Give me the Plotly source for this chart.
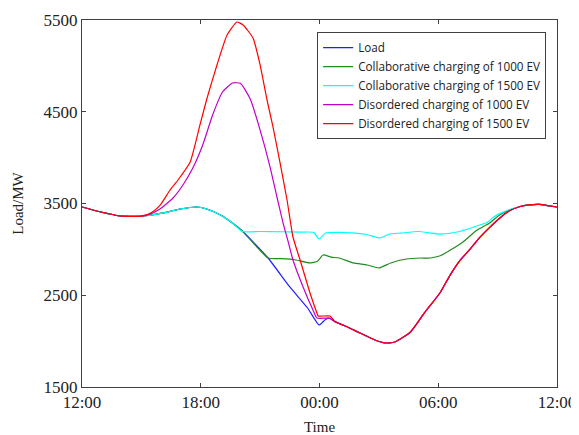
import plotly.graph_objects as go

# hours after 12:00 (0..24)
tick_hours = [0, 6, 12, 18, 24]
tick_labels = ["12:00", "18:00", "00:00", "06:00", "12:00"]
y_ticks = [1500, 2500, 3500, 4500, 5500]

load_x = [0, 0.9, 1.9, 3.0, 4.1, 4.95, 5.8, 6.3, 7.0, 7.6, 8.1, 9.4, 10.5, 11.4,
          11.98, 12.3, 12.5, 12.8, 13.3, 14.05, 14.8, 15.3, 15.8, 16.6, 17.3,
          18.1, 18.6, 19.1, 19.6, 20.1, 20.6, 21.1, 21.6, 22.1, 22.6, 23.1, 23.6, 24]
load_y = [3462, 3410, 3365, 3362, 3397, 3440, 3462, 3440, 3375, 3288, 3200, 2906, 2590, 2361,
          2176, 2235, 2250, 2210, 2165, 2088, 2012, 1980, 1990, 2100, 2307,
          2530, 2720, 2880, 3000, 3130, 3240, 3340, 3420, 3465, 3485, 3490, 3475, 3462]

collab1000_x = [0, 0.9, 1.9, 3.0, 4.1, 4.95, 5.8, 6.3, 7.0, 7.6, 8.1, 9.4, 10.0, 10.7,
                11.5, 11.9, 12.18, 12.6, 13.0, 13.7, 14.4, 15.0, 15.6, 16.4, 17.1, 17.6,
                18.1, 18.6, 19.25, 19.96, 20.6, 21.1, 21.6, 22.1, 22.6, 23.1, 23.6, 24]
collab1000_y = [3462, 3410, 3365, 3362, 3397, 3440, 3462, 3440, 3375, 3288, 3200, 2906, 2900, 2890,
                2852, 2870, 2939, 2915, 2906, 2852, 2830, 2797, 2852, 2895, 2906, 2906,
                2930, 2990, 3080, 3211, 3288, 3375, 3429, 3465, 3485, 3490, 3475, 3462]

collab1500_x = [0, 0.9, 1.9, 3.0, 4.1, 4.95, 5.8, 6.3, 7.0, 7.6, 8.1, 9.0, 10.0, 11.0,
                11.7, 11.98, 12.3, 13.0, 13.6, 14.3, 15.06, 15.5, 16.1, 17.0, 17.6,
                18.1, 18.95, 19.8, 20.5, 20.8, 21.1, 21.6, 22.1, 22.6, 23.1, 23.6, 24]
collab1500_y = [3462, 3410, 3365, 3362, 3397, 3440, 3462, 3440, 3375, 3288, 3195, 3195, 3192, 3188,
                3185, 3113, 3178, 3185, 3180, 3165, 3124, 3165, 3178, 3195, 3178,
                3167, 3189, 3244, 3298, 3353, 3390, 3435, 3465, 3485, 3490, 3475, 3462]

disord1000_x = [0, 0.9, 1.9, 3.0, 3.5, 3.94, 4.6, 5.1, 5.6, 6.1, 6.6, 7.1, 7.6, 8.0,
                8.5, 9.0, 9.5, 9.85, 10.16, 10.41, 10.66, 11.17, 11.67, 11.87, 12.5,
                12.8, 13.3, 14.05, 14.8, 15.3, 15.8, 16.6, 17.3,
                18.1, 18.6, 19.1, 19.6, 20.1, 20.6, 21.1, 21.6, 22.1, 22.6, 23.1, 23.6, 24]
disord1000_y = [3462, 3410, 3365, 3362, 3390, 3440, 3560, 3702, 3887, 4138, 4465, 4715, 4813, 4810,
                4640, 4300, 3900, 3571, 3287, 3090, 2884, 2590, 2339, 2252, 2250,
                2210, 2165, 2088, 2012, 1980, 1990, 2100, 2307,
                2530, 2720, 2880, 3000, 3130, 3240, 3340, 3420, 3465, 3485, 3490, 3475, 3462]

disord1500_x = [0, 0.9, 1.9, 3.0, 3.5, 3.94, 4.45, 4.85, 5.46, 5.96, 6.32, 6.82, 7.33, 7.83,
                8.14, 8.64, 8.99, 9.35, 9.65, 10.01, 10.36, 10.66, 11.02, 11.52, 11.87, 11.93,
                12.53, 12.8, 13.3, 14.05, 14.8, 15.3, 15.8, 16.6, 17.3,
                18.1, 18.6, 19.1, 19.6, 20.1, 20.6, 21.1, 21.6, 22.1, 22.6, 23.1, 23.6, 24]
disord1500_y = [3462, 3410, 3365, 3362, 3400, 3480, 3647, 3756, 3950, 4356, 4650, 5010, 5337, 5478,
                5445, 5304, 5020, 4628, 4334, 3941, 3538, 3135, 2884, 2525, 2307, 2274,
                2274, 2210, 2165, 2088, 2012, 1980, 1990, 2100, 2307,
                2530, 2720, 2880, 3000, 3130, 3240, 3340, 3420, 3465, 3485, 3490, 3475, 3462]

series = [
    ("Load", load_x, load_y, "#2020ff"),
    ("Collaborative charging of 1000 EV", collab1000_x, collab1000_y, "#1f8c1f"),
    ("Collaborative charging of 1500 EV", collab1500_x, collab1500_y, "#00ffff"),
    ("Disordered charging of 1000 EV", disord1000_x, disord1000_y, "#c000c8"),
    ("Disordered charging of 1500 EV", disord1500_x, disord1500_y, "#ff0000"),
]

fig = go.Figure()
for name, xs, ys, col in series:
    fig.add_trace(go.Scatter(x=xs, y=ys, mode="lines", name=name,
                             line=dict(color=col, width=1.2, shape="spline", smoothing=0.5)))

axis_font = dict(family="Liberation Serif", size=17, color="#222222")
title_font = dict(family="Liberation Serif", size=15, color="#222222")
# page body has an 8px margin, so the figure is a bit smaller than the window
fig.update_layout(
    width=571, height=427,
    margin=dict(l=74, r=22, t=12, b=48),
    paper_bgcolor="white", plot_bgcolor="white",
    showlegend=True,
    legend=dict(x=0.495, y=0.967, xanchor="left", yanchor="top",
                bgcolor="white", bordercolor="#404040", borderwidth=1,
                font=dict(family="Open Sans", size=11.7, color="#222222"),
                tracegroupgap=0),
    xaxis=dict(range=[0, 24], tickvals=tick_hours, ticktext=tick_labels,
               ticks="inside", ticklen=4, tickcolor="#404040",
               showline=True, linecolor="#404040", linewidth=1, mirror="ticks",
               showgrid=False, zeroline=False, tickfont=axis_font, automargin=False,
               title=dict(text="Time", font=title_font, standoff=12)),
    yaxis=dict(range=[1500, 5500], tickvals=y_ticks,
               ticks="inside", ticklen=4, tickcolor="#404040",
               showline=True, linecolor="#404040", linewidth=1, mirror="ticks",
               showgrid=False, zeroline=False, tickfont=axis_font, automargin=False,
               title=dict(text="Load/MW", font=title_font, standoff=16)),
)

fig.write_html("out.html")
